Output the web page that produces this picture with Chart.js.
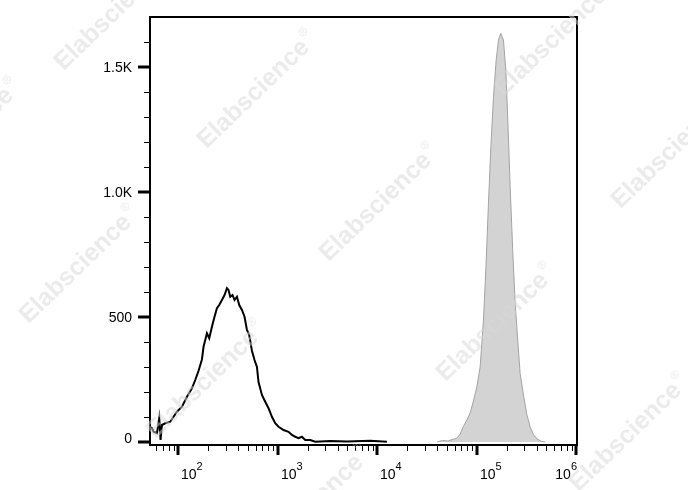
<!DOCTYPE html>
<html>
<head>
<meta charset="utf-8">
<script src="https://cdn.jsdelivr.net/npm/chart.js@4"></script>
<style>
  html, body { margin: 0; padding: 0; background: #fff; }
  #wrap { width: 688px; height: 490px; position: relative; }
</style>
</head>
<body>
<div id="wrap"><canvas id="chart"></canvas></div>
<script>
// unstained control (black outline)
const controlX = [52.3, 54.4, 56.5, 61.1, 64.4, 66.4, 68.6, 74.0, 83.1, 89.7, 97.0, 109, 122.3, 137.3, 148.2, 160,
    173, 179.6, 194.2, 204.9, 218.1, 231.6, 244.8, 258.3, 274.9, 292, 308.7, 320.3, 333.1, 351.3, 368, 389,
    410.4, 436.8, 463.8, 490.3, 517.1, 550.4, 584.6, 618, 641.2, 693.7, 748.6, 808.3, 874.4, 943.8, 1019,
    1144, 1284, 1389, 1500, 1618, 1751, 1890, 2122, 2382, 3371, 4961, 8503, 12520];
const controlCount = [60, 55, 41, 35, 95, 8, 68, 75, 81, 101, 121, 141, 181, 215, 248, 285,
    330, 381, 435, 415, 461, 501, 535, 548, 568, 588, 615, 608, 581, 588, 568, 581,
    548, 528, 501, 448, 428, 365, 328, 300, 240, 188, 161, 135, 101, 75, 61,
    48, 41, 28, 21, 15, 21, 8, 8, 1, 4, 2, 5, 1];

// stained sample (grey filled)
const stainedX = [40100, 45000, 51700, 56700, 63200, 68300, 73200, 79700, 86000, 92200, 100500, 108400,
    117000, 123600, 131400, 138900, 147600, 157000, 165600, 174900, 185900, 196300, 205600, 217100,
    231000, 243800, 257300, 273500, 295300, 319600, 345100, 372200, 405600, 444900, 488000];
const stainedCount = [0, 6, 4, 10, 15, 32, 61, 88, 116, 160, 221, 301,
    488, 688, 955, 1181, 1381, 1528, 1608, 1635, 1608, 1488, 1288, 1021,
    755, 555, 421, 275, 188, 110, 60, 30, 12, 3, 0];

// axis ticks
const yMajor = [0, 500, 1000, 1500];
const yLabels = ['0', '500', '1.0K', '1.5K'];
const yMinor = [100, 200, 300, 400, 600, 700, 800, 900, 1100, 1200, 1300, 1400, 1600];
const xMajor = [1e2, 1e3, 1e4, 1e5, 1e6];
const xExponents = ['2', '3', '4', '5', '6'];
const xMinor = [60, 70, 80, 90,
    200, 300, 400, 500, 600, 700, 800, 900,
    2000, 3000, 4000, 5000, 6000, 7000, 8000, 9000,
    2e4, 3e4, 4e4, 5e4, 6e4, 7e4, 8e4, 9e4,
    2e5, 3e5, 4e5, 5e5, 6e5, 7e5, 8e5, 9e5];

const watermarks = [[115, 12], [-38, 138], [258, 90], [555, 38], [380, 203], [80, 265],
    [672, 150], [497, 323], [207, 380], [630, 433], [312, 505]];

const FONT = '"Liberation Sans", Arial, sans-serif';

function pts(xs, ys) {
    return xs.map((v, i) => ({ x: v, y: ys[i] }));
}

const flowAxes = {
    id: 'flowAxes',
    afterDatasetsDraw(chart) {
        const { ctx, chartArea: a, scales: { x, y } } = chart;
        ctx.save();
        ctx.strokeStyle = '#000';
        ctx.fillStyle = '#000';

        function seg(x1, y1, x2, y2, w) {
            ctx.lineWidth = w;
            ctx.beginPath();
            ctx.moveTo(x1, y1);
            ctx.lineTo(x2, y2);
            ctx.stroke();
        }

        // frame
        ctx.lineWidth = 2;
        ctx.strokeRect(a.left, a.top, a.right - a.left, a.bottom - a.top);

        // y ticks + labels
        yMinor.forEach(v => {
            const py = Math.round(y.getPixelForValue(v)) + 0.5;
            seg(a.left - 6, py, a.left, py, 1);
        });
        ctx.font = '14px ' + FONT;
        ctx.textAlign = 'right';
        ctx.textBaseline = 'middle';
        yMajor.forEach((v, i) => {
            const py = Math.round(y.getPixelForValue(v));
            seg(a.left - 12, py, a.left, py, 3);
            ctx.fillText(yLabels[i], a.left - 18, py + (v === 0 ? -3 : 1));
        });

        // x ticks + labels
        xMinor.forEach(v => {
            const px = Math.round(x.getPixelForValue(v)) + 0.5;
            seg(px, a.bottom, px, a.bottom + 6, 1);
        });
        xMajor.forEach((v, i) => {
            const px = Math.round(x.getPixelForValue(v));
            seg(px, a.bottom, px, a.bottom + 10, 3);
            ctx.font = '14px ' + FONT;
            const wBase = ctx.measureText('10').width;
            ctx.font = '11px ' + FONT;
            const wSup = ctx.measureText(xExponents[i]).width;
            let left = px + 3;
            if (left + wBase + wSup > a.right) left = a.right - wBase - wSup;
            ctx.textAlign = 'left';
            ctx.textBaseline = 'alphabetic';
            ctx.font = '14px ' + FONT;
            ctx.fillText('10', left, a.bottom + 34);
            ctx.font = '11px ' + FONT;
            ctx.fillText(xExponents[i], left + wBase, a.bottom + 25);
        });
        ctx.restore();
    },
    afterDraw(chart) {
        const { ctx } = chart;
        ctx.save();
        ctx.fillStyle = 'rgba(215, 215, 215, 0.5)';
        ctx.textBaseline = 'middle';
        watermarks.forEach(([cx, cy]) => {
            ctx.save();
            ctx.translate(cx, cy);
            ctx.rotate(-44 * Math.PI / 180);
            ctx.font = 'bold 25px ' + FONT;
            const w = ctx.measureText('Elabscience').width;
            ctx.textAlign = 'left';
            ctx.fillText('Elabscience', -w / 2 - 6, 0);
            ctx.font = '12px ' + FONT;
            ctx.fillText('\u00AE', w / 2 - 4, -10);
            ctx.restore();
        });
        ctx.restore();
    }
};

document.addEventListener('DOMContentLoaded', function () {
    const ctx = document.getElementById('chart').getContext('2d');
    new Chart(ctx, {
        type: 'line',
        data: {
            datasets: [{
                label: 'Stained',
                data: pts(stainedX, stainedCount),
                borderColor: '#a3a3a3',
                backgroundColor: '#d3d3d3',
                borderWidth: 1,
                fill: 'origin',
                pointRadius: 0,
                tension: 0
            }, {
                label: 'Control',
                data: pts(controlX, controlCount),
                borderColor: '#000',
                borderWidth: 2,
                fill: false,
                pointRadius: 0,
                tension: 0
            }]
        },
        options: {
            responsive: true,
            maintainAspectRatio: false,
            animation: false,
            layout: { padding: { left: 150, top: 17, right: 111, bottom: 45 } },
            plugins: { legend: { display: false }, tooltip: { enabled: false } },
            scales: {
                x: { type: 'logarithmic', min: 52, max: 1.02e6, display: false },
                y: { type: 'linear', min: -12, max: 1700, display: false }
            }
        },
        plugins: [flowAxes]
    });
});
</script>
</body>
</html>
